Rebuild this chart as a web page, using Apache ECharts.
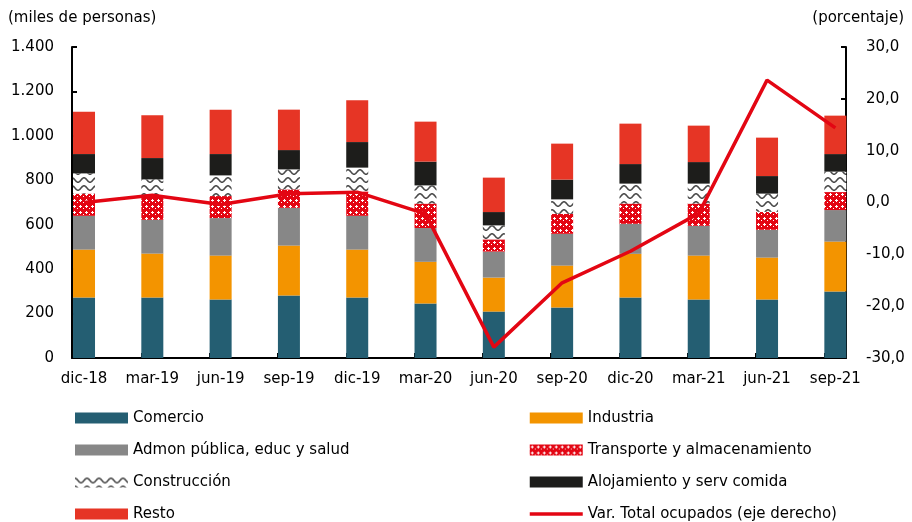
<!DOCTYPE html>
<html lang="es">
<head>
<meta charset="UTF-8">
<title>Ocupados por sector</title>
<script src="https://cdn.jsdelivr.net/npm/echarts@6.0.0/dist/echarts.min.js"></script>
<style>
  html, body { margin: 0; padding: 0; background: #fff; }
  #chart { width: 912px; height: 522px; }
</style>
</head>
<body>
<div id="chart"></div>
<script>
  // datos (miles de personas) y variación % del total
  const categories   = ['dic-18','mar-19','jun-19','sep-19','dic-19','mar-20','jun-20','sep-20','dic-20','mar-21','jun-21','sep-21'];
  const comercio     = [272, 272, 263, 281, 272, 245, 209, 227, 272, 263, 263, 299];
  const industria    = [216, 198, 198, 225, 216, 188, 153, 189, 197, 198, 189, 225];
  const admon        = [152, 152, 169, 170, 152, 152, 117, 143, 135, 134, 125, 142];
  const transporte   = [100, 110,  99,  83, 110, 110,  55,  90,  91, 100,  81,  81];
  const construccion = [ 91,  72,  93,  90, 107,  82,  63,  65,  90,  90,  82,  92];
  const alojamiento  = [ 87,  96,  96,  87, 115, 107,  60,  89,  88,  97,  79,  79];
  const resto        = [190, 193, 200, 182, 188, 180, 155, 162, 182, 164, 173, 173];
  const varTotal     = [0.0, 1.4, -0.4, 1.7, 2.0, -2.2, -27.9, -15.5, -9.4, -2.1, 23.6, 14.4];

  const FONT = 'DejaVu Sans';

  // patrones de relleno
  function transportePattern() {
    const c = document.createElement('canvas');
    c.width = 6; c.height = 6;
    const g = c.getContext('2d');
    g.fillStyle = '#e30613';
    g.fillRect(0, 0, 6, 6);
    g.fillStyle = '#fff';
    g.fillRect(2, 1, 1, 3);
    g.fillRect(1, 2, 3, 1);
    g.fillRect(5, 4, 1, 1);
    return c;
  }
  function construccionPattern() {
    const c = document.createElement('canvas');
    c.width = 12; c.height = 8;
    const g = c.getContext('2d');
    g.fillStyle = '#fff';
    g.fillRect(0, 0, 12, 8);
    g.strokeStyle = '#4a4a4a';
    g.lineWidth = 1.6;
    g.beginPath();
    for (let x = 0; x <= 12; x += 0.5) {
      const y = 4 - 2.2 * Math.cos(x / 12 * Math.PI * 2);
      if (x === 0) g.moveTo(x, y); else g.lineTo(x, y);
    }
    g.stroke();
    return c;
  }

  // valor primero para que el apilado se haga sobre el eje y
  const pts = arr => arr.map((v, i) => [v, i]);
  const fmtMiles = v => String(v).replace(/\B(?=(\d{3})+(?!\d))/g, '.');

  function barSeries(name, data, color) {
    return {
      name, type: 'bar', stack: 'total', barWidth: 22, clip: false,
      encode: { x: 1, y: 0 },
      itemStyle: { color },
      data: pts(data)
    };
  }

  const legendText = { fontSize: 15, lineHeight: 16, fontFamily: FONT, color: '#000' };

  const chart = echarts.init(document.getElementById('chart'));
  chart.setOption({
    animation: false,
    textStyle: { fontFamily: FONT },
    grid: { left: 72, right: 66, top: 47, bottom: 164 },
    xAxis: {
      type: 'value', min: -0.176, max: 11.156,
      axisLine: { show: true, onZero: false, lineStyle: { color: '#000', width: 2 } },
      axisTick: { show: true, inside: true, length: 5, lineStyle: { color: '#000', width: 2 },
                  customValues: categories.map((c, i) => i - 0.16).slice(1) },
      axisLabel: { color: '#000', fontSize: 15, fontFamily: FONT, margin: 14,
                   customValues: categories.map((c, i) => i),
                   formatter: v => categories[Math.round(v)] },
      splitLine: { show: false }
    },
    yAxis: [
      {
        type: 'value', min: 0, max: 1400, interval: 200,
        axisLine: { show: true, onZero: false, lineStyle: { color: '#000', width: 2 } },
        axisTick: { show: true, inside: true, length: 5, lineStyle: { color: '#000', width: 2 } },
        axisLabel: { color: '#000', fontSize: 15, fontFamily: FONT, margin: 18, formatter: fmtMiles },
        splitLine: { show: false }
      },
      {
        type: 'value', min: -30, max: 30, interval: 10,
        axisLine: { show: true, onZero: false, lineStyle: { color: '#000', width: 2 } },
        axisTick: { show: true, inside: true, length: 5, lineStyle: { color: '#000', width: 2 } },
        axisLabel: { color: '#000', fontSize: 15, fontFamily: FONT, margin: 20,
                     formatter: v => v.toFixed(1).replace('.', ',') },
        splitLine: { show: false }
      }
    ],
    legend: [
      {
        orient: 'vertical', left: 75, top: 410, padding: 0, itemWidth: 53, itemHeight: 11, itemGap: 16,
        textStyle: legendText,
        data: ['Comercio', 'Admon pública, educ y salud', 'Construcción', 'Resto']
          .map(name => ({ name, icon: 'rect' }))
      },
      {
        orient: 'vertical', left: 528, top: 410, padding: 0, itemWidth: 53, itemHeight: 11, itemGap: 16,
        textStyle: legendText,
        data: [
          { name: 'Industria', icon: 'rect' },
          { name: 'Transporte y almacenamiento', icon: 'rect' },
          { name: 'Alojamiento y serv comida', icon: 'rect' },
          { name: 'Var. Total ocupados (eje derecho)',
            itemStyle: { color: 'rgba(0,0,0,0)', borderWidth: 0 },
            lineStyle: { width: 3.5 } }
        ]
      }
    ],
    graphic: [
      { type: 'text', left: 8, top: 11, style: { text: '(miles de personas)', font: '15px ' + FONT, fill: '#000' } },
      { type: 'text', right: 8, top: 11, style: { text: '(porcentaje)', font: '15px ' + FONT, fill: '#000' } }
    ],
    series: [
      barSeries('Comercio', comercio, '#245e72'),
      barSeries('Industria', industria, '#f39400'),
      barSeries('Admon pública, educ y salud', admon, '#878787'),
      barSeries('Transporte y almacenamiento', transporte, { image: transportePattern(), repeat: 'repeat' }),
      barSeries('Construcción', construccion, { image: construccionPattern(), repeat: 'repeat' }),
      barSeries('Alojamiento y serv comida', alojamiento, '#1d1d1b'),
      barSeries('Resto', resto, '#e63525'),
      {
        name: 'Var. Total ocupados (eje derecho)', type: 'line', yAxisIndex: 1,
        symbol: 'none', z: 5,
        encode: { x: 1, y: 0 },
        lineStyle: { color: '#e30613', width: 3.5 },
        itemStyle: { color: '#e30613' },
        data: pts(varTotal)
      }
    ]
  });
</script>
</body>
</html>
